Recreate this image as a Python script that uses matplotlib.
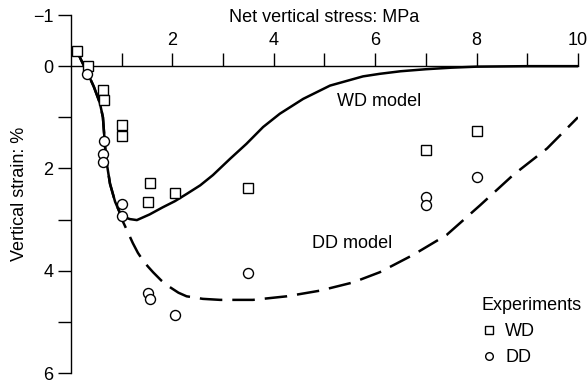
import matplotlib.pyplot as plt
from matplotlib.lines import Line2D

plt.rcParams['font.family'] = ['Liberation Sans', 'DejaVu Sans']
FS = 13

# experiments: net vertical stress (MPa) vs vertical strain (%)
wd_stress = [0.12, 0.33, 0.63, 0.65, 1.0, 1.0, 1.55, 1.51, 2.05, 3.5, 7.0, 8.0]
wd_strain = [-0.29, 0.0, 0.47, 0.67, 1.16, 1.36, 2.29, 2.66, 2.49, 2.39, 1.64, 1.27]

dd_stress = [0.32, 0.65, 0.63, 0.63, 1.0, 1.0, 1.51, 1.55, 2.05, 3.5, 7.0, 7.0, 8.0]
dd_strain = [0.16, 1.47, 1.72, 1.87, 2.69, 2.93, 4.43, 4.55, 4.87, 4.04, 2.55, 2.72, 2.17]

start_x = [0.12, 0.22, 0.33, 0.45, 0.57, 0.63, 0.66, 0.69, 0.77, 0.87, 0.97]
start_y = [-0.29, -0.08, 0.14, 0.40, 0.72, 1.00, 1.40, 1.80, 2.30, 2.65, 2.88]

wd_model_x = start_x + [1.05, 1.16, 1.30, 1.55, 1.81, 2.05, 2.28, 2.55, 2.80, 3.14,
                        3.46, 3.79, 4.12, 4.58, 5.11, 5.76, 6.09, 6.5, 7.0, 7.5,
                        8.0, 9.0, 10.0]
wd_model_y = start_y + [2.95, 2.99, 3.01, 2.90, 2.76, 2.64, 2.50, 2.33, 2.13, 1.81,
                        1.52, 1.19, 0.93, 0.64, 0.38, 0.20, 0.15, 0.10, 0.06, 0.03,
                        0.01, 0.0, 0.0]

dd_model_x = start_x + [1.03, 1.10, 1.16, 1.22, 1.32, 1.42, 1.52, 1.62, 1.78, 1.95,
                        2.12, 2.28, 2.60, 2.94, 3.59, 4.26, 4.91, 5.56, 6.09, 6.75,
                        7.41, 8.07, 8.72, 9.39, 10.0]
dd_model_y = start_y + [3.05, 3.20, 3.33, 3.46, 3.65, 3.80, 3.92, 4.03, 4.19, 4.32,
                        4.43, 4.50, 4.55, 4.57, 4.57, 4.50, 4.39, 4.23, 4.03, 3.69,
                        3.30, 2.72, 2.13, 1.61, 1.00]

fig = plt.figure(figsize=(5.88, 3.83), dpi=100)
ax = fig.add_axes([0.1207, 0.0261, 0.8622, 0.9347])

ax.plot(wd_model_x, wd_model_y, color='black', lw=1.8, solid_joinstyle='round')
ax.plot(dd_model_x, dd_model_y, color='black', lw=1.8, dashes=(9, 4))

ax.plot(wd_stress, wd_strain, ls='none', marker='s', ms=7.2, mfc='white',
        mec='black', mew=1.0, zorder=3)
ax.plot(dd_stress, dd_strain, ls='none', marker='o', ms=7.2, mfc='white',
        mec='black', mew=1.0, zorder=3)

ax.set_xlim(0, 10)
ax.set_ylim(6, -1)

ax.spines['right'].set_visible(False)
ax.spines['bottom'].set_visible(False)
ax.spines['top'].set_position(('data', 0))
ax.spines['left'].set_bounds(-1, 6)
for s in ax.spines.values():
    s.set_linewidth(1.0)

ax.xaxis.set_ticks_position('top')
ax.set_xticks(range(1, 11))
ax.set_xticklabels(['' if i % 2 else str(i) for i in range(1, 11)])
ax.set_yticks([-1, 0, 2, 4, 6])
ax.set_yticklabels(['\u22121', '0', '2', '4', '6'])
ax.set_yticks([1, 3, 5], minor=True)
ax.tick_params(axis='both', which='both', direction='out', length=9.5,
               width=1.0, labelsize=FS, pad=3)

ax.text(5.0, -0.95, 'Net vertical stress: MPa', ha='center', va='center',
        fontsize=FS, clip_on=False)
ax.text(-1.02, 2.49, 'Vertical strain: %', ha='center', va='center',
        rotation=90, fontsize=FS, clip_on=False)

ax.text(5.25, 0.70, 'WD model', ha='left', va='center', fontsize=FS)
ax.text(4.75, 3.46, 'DD model', ha='left', va='center', fontsize=FS)

handles = [Line2D([], [], ls='none', marker='s', ms=5.5, mfc='white', mec='black', mew=1.0),
           Line2D([], [], ls='none', marker='o', ms=5.5, mfc='white', mec='black', mew=1.0)]
leg = ax.legend(handles, ['WD', 'DD'], title='Experiments', loc='upper left',
                bbox_to_anchor=(0.81, 0.212), frameon=False, fontsize=FS,
                title_fontsize=FS, alignment='left', handlelength=0.8,
                handletextpad=0.5, labelspacing=0.5, borderpad=0, borderaxespad=0)

fig.savefig('out.png', dpi=100)
